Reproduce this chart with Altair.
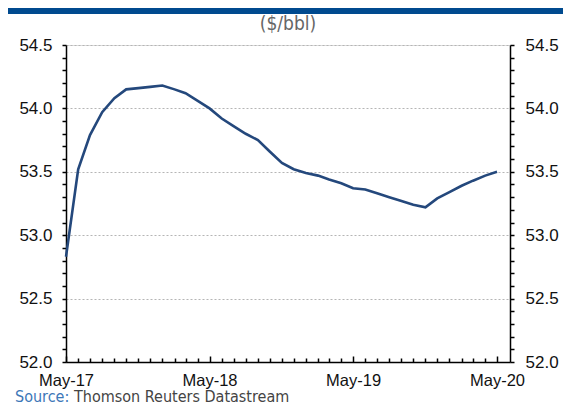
import altair as alt
import pandas as pd

# Monthly values, May-2017 .. May-2020 ($/bbl)
months = pd.date_range("2017-05-01", "2020-05-01", freq="MS").strftime("%Y-%m-%d").tolist()
values = [52.83, 53.52, 53.79, 53.97, 54.08, 54.15, 54.16, 54.17, 54.18, 54.15,
          54.12, 54.06, 54.00, 53.92, 53.86, 53.80, 53.75, 53.66, 53.57, 53.52,
          53.49, 53.47, 53.44, 53.41, 53.37, 53.36, 53.33, 53.30, 53.27, 53.24,
          53.22, 53.29, 53.34, 53.39, 53.43, 53.47, 53.50]
y_ticks = [round(52.0 + 0.1 * i, 1) for i in range(26)]
x_ticks = pd.date_range("2017-05-01", "2020-05-01", freq="MS").strftime("%Y-%m-%d").tolist()
title_text = "($/bbl)"
source_label = "Source:"
source_text = "Thomson Reuters Datastream"

df = pd.DataFrame({"date": months, "value": values})

W, H = 444, 317
LINE = "#24487c"
FONT = "Liberation Sans"
NARROW = "Liberation Sans Narrow, DejaVu Sans Condensed, sans-serif"

major_y = "abs(datum.value*2 - round(datum.value*2)) < 0.001"
y_label_expr = f"{major_y} ? format(datum.value, '.1f') : ''"
x_major = "utcmonth(datum.value) == 4"

x_scale = alt.Scale(type="utc", domain=["2017-05-01", "2020-06-03"])
y_scale = alt.Scale(domain=[52.0, 54.5], nice=False, zero=False)

tick_vals_x = [alt.DateTime(year=int(d[:4]), month=int(d[5:7]), date=1, utc=True) for d in x_ticks]

base = alt.Chart(df)

left = base.mark_line(color=LINE, strokeWidth=2.6).encode(
    x=alt.X("date:T", scale=x_scale, axis=alt.Axis(
        orient="bottom", title=None, values=tick_vals_x, ticks=False, tickSize=0,
        labelExpr=f"{x_major} ? utcFormat(datum.value, '%b-%y') : ''",
        labelOverlap=False, labelFlush=False, labelBound=False, labelPadding=10,
        labelFont=FONT, labelFontSize=16.5,
        labelColor="#111", domainColor="#000", domainWidth=1.5, grid=False)),
    y=alt.Y("value:Q", scale=y_scale, axis=alt.Axis(
        orient="left", title=None, values=y_ticks, labelExpr=y_label_expr,
        labelOverlap=False, labelFlush=False, labelFont=FONT, labelFontSize=17,
        labelColor="#111",
        labelPadding=10, tickSize=4, tickColor="#000", tickWidth=1.5,
        domainColor="#000", domainWidth=1.5,
        grid=True, gridColor="#b5b5b5", gridDash=[2, 2], gridWidth=1,
        gridOpacity={"condition": {"test": major_y, "value": 1}, "value": 0})),
)

right = base.mark_line(strokeOpacity=0).encode(
    x=alt.X("date:T", scale=x_scale, axis=alt.Axis(
        orient="top", offset=-H, title=None, values=tick_vals_x, labels=False,
        domain=False, grid=False, tickColor="#000", tickWidth=1.5,
        tickSize={"condition": {"test": x_major, "value": 6}, "value": 4})),
    y=alt.Y("value:Q", scale=y_scale, axis=alt.Axis(
        orient="right", title=None, values=y_ticks, labelExpr=y_label_expr,
        labelOverlap=False, labelFlush=False, labelFont=FONT, labelFontSize=17,
        labelColor="#111",
        labelPadding=11, tickSize=4, tickColor="#000", tickWidth=1.5,
        domainColor="#000", domainWidth=1.5, grid=False)),
)

one = alt.Data(values=[{"t": 1}])

bar = alt.Chart(one).mark_rect(color="#004a8f").encode(
    x=alt.value(-58), x2=alt.value(555 - 58), y=alt.value(-37), y2=alt.value(-31))

title = alt.Chart(one).mark_text(font=NARROW, fontSize=19, color="#666",
                                 baseline="middle", align="center").encode(
    x=alt.value(W / 2), y=alt.value(-21), text=alt.value(title_text))

src1 = alt.Chart(one).mark_text(font=NARROW, fontSize=16, color="#3d78b8",
                                baseline="alphabetic", align="left").encode(
    x=alt.value(-51), y=alt.value(357), text=alt.value(source_label))

src2 = alt.Chart(one).mark_text(font=NARROW, fontSize=16, color="#444",
                                baseline="alphabetic", align="left").encode(
    x=alt.value(8), y=alt.value(357), text=alt.value(source_text))

chart = alt.layer(left, right, bar, title, src1, src2).resolve_axis(
    x="independent", y="independent"
).properties(
    width=W, height=H,
    autosize=alt.AutoSizeParams(type="none"),
    padding={"left": 58, "top": 37, "right": 53, "bottom": 45},
).configure_view(stroke=None).configure(background="white")

chart.save("out.html", embed_options={"renderer": "svg", "actions": False})
